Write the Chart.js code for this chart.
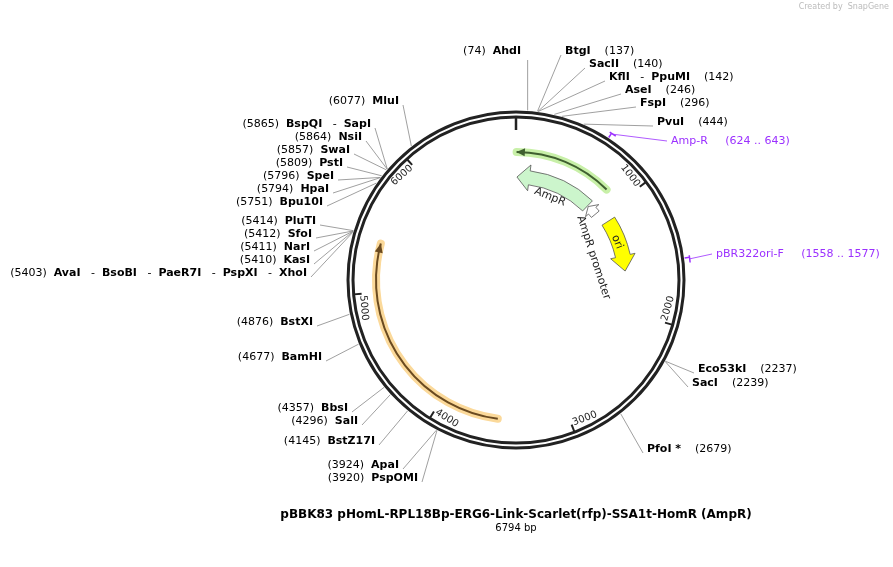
<!DOCTYPE html>
<html><head><meta charset="utf-8">
<script src="https://cdn.jsdelivr.net/npm/chart.js@4"></script>
<style>html,body{margin:0;background:#fff}canvas{display:block}</style>
</head><body>
<canvas id="c" width="893" height="567"></canvas>
<script>
// plasmid data
const totalBp = 6794;
const title = "pBBK83 pHomL-RPL18Bp-ERG6-Link-Scarlet(rfp)-SSA1t-HomR (AmpR)";
const tickBp = [1000, 2000, 3000, 4000, 5000, 6000];

const enzymeNames = [
  ["AhdI"], ["BtgI"], ["SacII"], ["KflI", "PpuMI"], ["AseI"], ["FspI"], ["PvuI"],
  ["Eco53kI"], ["SacI"], ["PfoI *"],
  ["MluI"], ["BspQI", "SapI"], ["NsiI"], ["SwaI"], ["PstI"], ["SpeI"], ["HpaI"], ["Bpu10I"],
  ["PluTI"], ["SfoI"], ["NarI"], ["KasI"], ["AvaI", "BsoBI", "PaeR7I", "PspXI", "XhoI"],
  ["BstXI"], ["BamHI"], ["BbsI"], ["SalI"], ["BstZ17I"], ["ApaI"], ["PspOMI"]
];
const enzymePos = [74, 137, 140, 142, 246, 296, 444, 2237, 2239, 2679,
  6077, 5865, 5864, 5857, 5809, 5796, 5794, 5751,
  5414, 5412, 5411, 5410, 5403, 4876, 4677, 4357, 4296, 4145, 3924, 3920];

const primerNames = ["Amp-R", "pBR322ori-F"];
const primerStart = [624, 1558];
const primerEnd = [643, 1577];

// features: name, start, end, direction
const featNames = ["AmpR", "AmpR promoter", "ori", "Scarlet"];
const featStart = [10, 840, 1085, 3538];
const featEnd = [830, 950, 1610, 5380];
const featDir = [-1, -1, 1, 1];

// layout (label anchor positions in px, edge nearest the map)
const labelLayout = [
  [521, 51, "L"], [565, 51, "R"], [589, 64, "R"], [609, 77, "R"], [625, 90, "R"], [640, 103, "R"], [657, 122, "R"],
  [698, 369, "R"], [692, 383, "R"], [647, 449, "R"],
  [399, 101, "L"], [371, 124, "L"], [362, 137, "L"], [350, 150, "L"], [343, 163, "L"], [334, 176, "L"], [329, 189, "L"], [323, 202, "L"],
  [316, 221, "L"], [312, 234, "L"], [310, 247, "L"], [310, 260, "L"], [307, 273, "L"],
  [313, 322, "L"], [322, 357, "L"], [348, 408, "L"], [358, 421, "L"], [375, 441, "L"], [399, 465, "L"], [418, 478, "L"]
];
const primerLayout = [[671, 141], [716, 254]];

const FONT = "DejaVu Sans";
const CX = 516, CY = 280, R_OUT = 168, R_IN = 163;

const mapPlugin = {
  id: "plasmidMap",
  afterDatasetsDraw(chart) {
    const ctx = chart.ctx, sx = chart.scales.x, sy = chart.scales.y;
    const px = v => sx.getPixelForValue(v), py = v => sy.getPixelForValue(v);
    const cx = px(CX), cy = py(CY);
    const ang = bp => bp / totalBp * 2 * Math.PI - Math.PI / 2;
    const pt = (bp, r) => [cx + r * Math.cos(ang(bp)), cy + r * Math.sin(ang(bp))];
    ctx.save();

    // backbone
    ctx.strokeStyle = "#222";
    ctx.lineWidth = 3;
    [R_OUT, R_IN].forEach(r => { ctx.beginPath(); ctx.arc(cx, cy, r, 0, 2 * Math.PI); ctx.stroke(); });

    // origin mark
    ctx.lineWidth = 2.5;
    ctx.beginPath(); ctx.moveTo(...pt(0, R_IN)); ctx.lineTo(...pt(0, 150)); ctx.stroke();

    // ticks: label runs along the tangent on the counterclockwise side, inside the ring
    ctx.font = "10px " + FONT;
    ctx.fillStyle = "#222";
    tickBp.forEach(bp => {
      ctx.lineWidth = 2;
      ctx.beginPath(); ctx.moveTo(...pt(bp, R_IN)); ctx.lineTo(...pt(bp, 155)); ctx.stroke();
      const deg = bp / totalBp * 360;
      const left = deg > 90 && deg <= 270;
      const rot = left ? deg - 180 : (deg > 270 ? deg - 360 : deg);
      const p = pt(bp - 12, 159);
      ctx.save(); ctx.translate(p[0], p[1]); ctx.rotate(rot * Math.PI / 180);
      ctx.textAlign = left ? "left" : "right";
      ctx.textBaseline = left ? "bottom" : "top";
      ctx.fillText(String(bp), 0, 0); ctx.restore();
    });

    // enzyme leader lines and labels
    const drawLabel = (names, num, x, y, side) => {
      const parts = [];
      if (side === "L") parts.push(["(" + num + ")  ", false]);
      names.forEach((n, i) => { if (i) parts.push(["   -  ", false]); parts.push([n, true]); });
      if (side === "R") parts.push(["    (" + num + ")", false]);
      const fontOf = b => (b ? "bold " : "") + "11px " + FONT;
      let w = 0; parts.forEach(p => { ctx.font = fontOf(p[1]); w += ctx.measureText(p[0]).width; });
      let xx = side === "L" ? x - w : x;
      ctx.textAlign = "left"; ctx.textBaseline = "middle";
      parts.forEach(p => { ctx.font = fontOf(p[1]); ctx.fillText(p[0], xx, y); xx += ctx.measureText(p[0]).width; });
    };
    enzymeNames.forEach((names, i) => {
      const [lx, ly, side] = labelLayout[i];
      const a = pt(enzymePos[i], R_OUT + 2);
      let ex = side === "L" ? lx + 4 : lx - 4, ey = ly + 4;
      if (i === 0) { ex = a[0]; ey = ly + 9; }
      ctx.strokeStyle = "#888"; ctx.lineWidth = 0.8;
      ctx.beginPath(); ctx.moveTo(a[0], a[1]); ctx.lineTo(ex, ey); ctx.stroke();
      ctx.fillStyle = "#000";
      drawLabel(names, enzymePos[i], px(lx), py(ly), side);
    });

    // primers
    primerNames.forEach((n, i) => {
      const mid = (primerStart[i] + primerEnd[i]) / 2;
      ctx.strokeStyle = "#9b30ff"; ctx.lineWidth = 1.5;
      ctx.beginPath(); ctx.moveTo(...pt(primerStart[i], R_OUT + 7)); ctx.lineTo(...pt(primerStart[i], R_OUT + 2)); ctx.stroke();
      ctx.beginPath(); ctx.arc(cx, cy, R_OUT + 7, ang(primerStart[i]) - 0.012, ang(primerEnd[i]) + 0.012); ctx.stroke();
      const [lx, ly] = primerLayout[i];
      const a = pt(mid, R_OUT + 7);
      ctx.lineWidth = 0.8;
      ctx.beginPath(); ctx.moveTo(a[0], a[1]); ctx.lineTo(px(lx) - 4, py(ly)); ctx.stroke();
      ctx.fillStyle = "#9b30ff"; ctx.font = "11px " + FONT; ctx.textAlign = "left"; ctx.textBaseline = "middle";
      ctx.fillText(n + "     (" + primerStart[i] + " .. " + primerEnd[i] + ")", px(lx), py(ly));
    });

    // block arrow feature
    const blockArrow = (s, e, dir, r1, r2, fill, head, flare) => {
      const rm = (r1 + r2) / 2;
      ctx.beginPath();
      if (dir > 0) {
        const ah = ang(e - head);
        ctx.arc(cx, cy, r2, ang(s), ah);
        ctx.lineTo(...pt(e - head, r2 + flare)); ctx.lineTo(...pt(e, rm)); ctx.lineTo(...pt(e - head, r1 - flare));
        ctx.arc(cx, cy, r1, ah, ang(s), true);
      } else {
        const ah = ang(s + head);
        ctx.arc(cx, cy, r2, ang(e), ah, true);
        ctx.lineTo(...pt(s + head, r2 + flare)); ctx.lineTo(...pt(s, rm)); ctx.lineTo(...pt(s + head, r1 - flare));
        ctx.arc(cx, cy, r1, ah, ang(e));
      }
      ctx.closePath();
      ctx.fillStyle = fill; ctx.fill();
      ctx.strokeStyle = "#555"; ctx.lineWidth = 0.8; ctx.stroke();
    };

    // highlighted arc with arrowhead
    const arcArrow = (s, e, dir, r, band, line) => {
      ctx.strokeStyle = band; ctx.lineWidth = 8; ctx.lineCap = "round";
      ctx.beginPath(); ctx.arc(cx, cy, r, ang(s), ang(e)); ctx.stroke();
      ctx.strokeStyle = line; ctx.lineWidth = 2; ctx.lineCap = "butt";
      ctx.beginPath(); ctx.arc(cx, cy, r, ang(s), ang(e)); ctx.stroke();
      const tip = dir > 0 ? e : s, back = dir > 0 ? e - 70 : s + 70;
      ctx.fillStyle = line;
      ctx.beginPath(); ctx.moveTo(...pt(tip, r)); ctx.lineTo(...pt(back, r + 4)); ctx.lineTo(...pt(back, r - 4)); ctx.closePath(); ctx.fill();
    };

    arcArrow(5, 850, -1, 128, "#c8f0a8", "#3f5f2f");
    arcArrow(featStart[3], featEnd[3], 1, 140, "#fbd99a", "#6a4a20");
    blockArrow(featStart[0], featEnd[0], featDir[0], 96, 110, "#ccf5cc", 130, 6);
    blockArrow(featStart[1], featEnd[1], featDir[1], 98, 108, "#ffffff", 60, 4);
    blockArrow(featStart[2], featEnd[2], featDir[2], 102, 117, "#ffff00", 150, 5);

    // feature labels
    const rotText = (t, x, y, deg, align) => {
      ctx.save(); ctx.translate(px(x), py(y)); ctx.rotate(deg * Math.PI / 180);
      ctx.fillStyle = "#222"; ctx.font = "11px " + FONT; ctx.textAlign = align || "center"; ctx.textBaseline = "middle";
      ctx.fillText(t, 0, 0); ctx.restore();
    };
    rotText(featNames[0], 550, 197, 22);
    rotText(featNames[1], 580, 216, 72, "left");
    rotText(featNames[2], 617, 242, 68);

    // title
    ctx.fillStyle = "#000"; ctx.textAlign = "center"; ctx.textBaseline = "middle";
    ctx.font = "bold 12px " + FONT; ctx.fillText(title, px(516), py(515));
    ctx.font = "10px " + FONT; ctx.fillText(totalBp + " bp", px(516), py(528));
    ctx.fillStyle = "#bbb"; ctx.font = "8px " + FONT; ctx.textAlign = "right";
    ctx.fillText("Created by  SnapGene", px(889), py(7));
    ctx.restore();
  }
};

new Chart(document.getElementById("c"), {
  type: "scatter",
  data: { datasets: [{ data: [] }] },
  options: {
    responsive: false, animation: false,
    layout: { padding: 0 },
    scales: {
      x: { type: "linear", min: 0, max: 893, display: false },
      y: { type: "linear", min: 0, max: 567, reverse: true, display: false }
    },
    plugins: { legend: { display: false }, tooltip: { enabled: false } }
  },
  plugins: [mapPlugin]
});
</script>
</body></html>
